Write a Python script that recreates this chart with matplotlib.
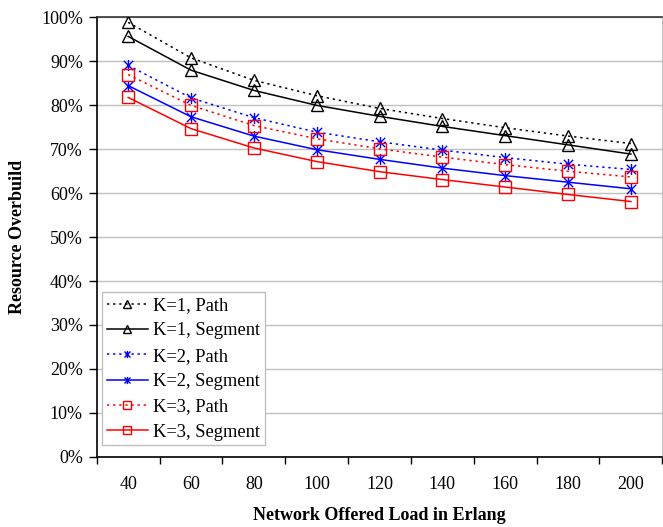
import matplotlib
matplotlib.use("Agg")
import matplotlib.pyplot as plt
from matplotlib.path import Path
from matplotlib.ticker import FixedLocator, FuncFormatter

load = [40, 60, 80, 100, 120, 140, 160, 180, 200]
k1_path = [98.9, 90.8, 85.7, 82.2, 79.3, 77.0, 74.9, 73.0, 71.3]
k1_seg = [95.7, 88.0, 83.4, 80.0, 77.5, 75.2, 73.1, 71.0, 68.9]
k2_path = [89.1, 81.7, 77.2, 73.9, 71.7, 69.8, 68.1, 66.6, 65.4]
k2_seg = [84.5, 77.4, 73.0, 69.9, 67.7, 65.7, 64.0, 62.5, 61.0]
k3_path = [87.0, 80.0, 75.4, 72.4, 70.1, 68.2, 66.5, 65.0, 63.7]
k3_seg = [81.8, 74.7, 70.3, 67.2, 64.9, 63.1, 61.4, 59.7, 58.1]
labels = ["K=1, Path", "K=1, Segment", "K=2, Path", "K=2, Segment", "K=3, Path", "K=3, Segment"]
y_ticks = [0, 10, 20, 30, 40, 50, 60, 70, 80, 90, 100]

plt.rcParams['font.family'] = ['Liberation Serif', 'DejaVu Serif']

star = Path([(-1, -1), (1, 1), (-1, 1), (1, -1), (0, -1.2), (0, 1.2)],
            [Path.MOVETO, Path.LINETO, Path.MOVETO, Path.LINETO, Path.MOVETO, Path.LINETO])

fig = plt.figure(figsize=(6.63, 5.27), dpi=100)
ax = fig.add_axes([0.1459, 0.1334, 0.8531, 0.8334])

dot = (0, (1.5, 2.5))
series = [
    (k1_path, 'black', dot, '^', 8),
    (k1_seg, 'black', '-', '^', 8),
    (k2_path, '#0000ff', dot, star, 8),
    (k2_seg, '#0000ff', '-', star, 8),
    (k3_path, '#ff0000', dot, 's', 8),
    (k3_seg, '#ff0000', '-', 's', 8),
]
for (vals, col, ls, mk, ms), lab in zip(series, labels):
    ax.plot(load, vals, color=col, linestyle=ls, linewidth=1.1, marker=mk,
            markersize=ms, markerfacecolor='none', markeredgecolor=col,
            markeredgewidth=1.0, label=lab, zorder=3)

ax.set_xlim(30, 210)
ax.set_ylim(0, 100)
ax.set_xticks(load)
ax.set_xticks([30 + 20 * i for i in range(10)], minor=True)
ax.tick_params(axis='x', which='major', length=0, pad=14, labelsize=13)
ax.tick_params(axis='x', which='minor', length=5, width=1, direction='out')
ax.yaxis.set_major_locator(FixedLocator(y_ticks))
ax.yaxis.set_major_formatter(FuncFormatter(lambda v, p: f"{int(v)}%"))
ax.tick_params(axis='y', length=6, width=1, direction='out', labelsize=13, pad=4)
ax.grid(axis='y', color='#c0c0c0', linewidth=1.0, zorder=0)
ax.set_axisbelow(True)

for s in ['left', 'bottom', 'top']:
    ax.spines[s].set_color('black')
    ax.spines[s].set_linewidth(1.2)
ax.spines['top'].set_color('#333333')
ax.spines['right'].set_color('#c0c0c0')

ax.set_xlabel("Network Offered Load in Erlang", fontsize=13, fontweight='bold', labelpad=10)
ax.set_ylabel("Resource Overbuild", fontsize=13, fontweight='bold', labelpad=11)

leg = ax.legend(loc='lower left', bbox_to_anchor=(0.01, 0.026), fontsize=13.3, frameon=True,
                fancybox=False, edgecolor='#c0c0c0', framealpha=1, handlelength=2.2,
                handletextpad=0.3, borderpad=0.25, labelspacing=0.45, borderaxespad=0,
                markerscale=0.65)
leg.get_frame().set_linewidth(1.0)

fig.savefig("out.png", dpi=100)
